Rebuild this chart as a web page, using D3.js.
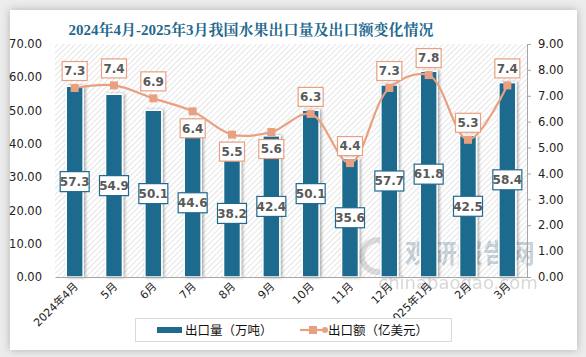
<!DOCTYPE html>
<html><head><meta charset="utf-8">
<script src="https://cdn.jsdelivr.net/npm/d3@7"></script>
<style>
html,body{margin:0;padding:0;background:#ececec;}
#card{position:absolute;left:10px;top:10px;width:567px;height:340px;background:#fff;box-shadow:0 0 8px rgba(0,0,0,0.25);}
svg{position:absolute;left:0;top:0;}
</style></head><body>
<div id="card"></div>
<svg id="chart" width="586" height="357"></svg>
<script>
const categories = ["2024年4月","5月","6月","7月","8月","9月","10月","11月","12月","2025年1月","2月","3月"];
const volume = [57.3,54.9,50.1,44.6,38.2,42.4,50.1,35.6,57.7,61.8,42.5,58.4];
const value = [7.3,7.4,6.9,6.4,5.5,5.6,6.3,4.4,7.3,7.8,5.3,7.4];
const leftTicks = [0,10,20,30,40,50,60,70];
const rightTicks = [0,1,2,3,4,5,6,7,8,9];
const labelBelow = [false,false,false,true,true,true,false,false,false,false,false,false];

const blue = "#1f6a8d", salmon = "#e9a080", gray = "#595959";
const svg = d3.select("#chart");
const m = {l:55, r:527, t:44, b:277};

const defs = svg.append("defs");
const pat = defs.append("pattern").attr("id","hatch").attr("patternUnits","userSpaceOnUse")
  .attr("width",4).attr("height",4).attr("patternTransform","rotate(45)");
pat.append("rect").attr("width",4).attr("height",4).attr("fill","#fff");
pat.append("line").attr("x1",0).attr("y1",0).attr("x2",0).attr("y2",4).attr("stroke","#d4d4d4").attr("stroke-width",1.2);
const f = defs.append("filter").attr("id","sh").attr("x","-30%").attr("y","-10%").attr("width","160%").attr("height","120%");
f.append("feDropShadow").attr("dx",1.5).attr("dy",0).attr("stdDeviation",1.5).attr("flood-color","#000").attr("flood-opacity",0.35);

// title
svg.append("text").attr("x",251).attr("y",35).attr("text-anchor","middle")
  .attr("font-family","'Liberation Serif','Noto Serif CJK SC','Noto Sans CJK SC',serif").attr("font-weight","bold")
  .attr("font-size",15).attr("fill","#23688c")
  .text("2024年4月-2025年3月我国水果出口量及出口额变化情况");

// plot bg
svg.append("rect").attr("x",m.l).attr("y",m.t).attr("width",m.r-m.l).attr("height",m.b-m.t).attr("fill","url(#hatch)");

const x = d3.scaleBand().domain(categories).range([m.l,m.r]).paddingInner(0.57).paddingOuter(0.285);
const yL = d3.scaleLinear().domain([0,70]).range([m.b,m.t]);
const yR = d3.scaleLinear().domain([0,9]).range([m.b,m.t]);
const cx = d => x(d)+x.bandwidth()/2;

// watermark
const wm = svg.append("g").attr("opacity",0.25);
wm.append("circle").attr("cx",378).attr("cy",256).attr("r",16).attr("fill","none").attr("stroke","#7a7a7a").attr("stroke-width",6);
wm.append("text").attr("x",470).attr("y",263).attr("text-anchor","middle").attr("font-family","'Noto Sans CJK SC',sans-serif").attr("font-weight","bold").attr("font-size",26).attr("fill","#2f5670").text("观研报告网");
wm.append("text").attr("x",458).attr("y",289).attr("text-anchor","middle").attr("font-family","'DejaVu Sans',sans-serif").attr("font-size",18).attr("fill","#666").text("chinabaogao.com");

// bars
svg.append("g").selectAll("rect").data(categories).join("rect")
  .attr("x",d=>x(d)).attr("width",x.bandwidth())
  .attr("y",(d,i)=>yL(volume[i])).attr("height",(d,i)=>m.b-yL(volume[i]))
  .attr("fill",blue).attr("stroke","#fff").attr("stroke-width",1.5).attr("filter","url(#sh)");

// axes
const fmt = d3.format(".2f");
const gl = svg.append("g").attr("transform",`translate(${m.l},0)`)
  .call(d3.axisLeft(yL).tickValues(leftTicks).tickFormat(fmt).tickSize(0).tickPadding(13));
gl.select(".domain").remove();
const gr = svg.append("g").attr("transform",`translate(${m.r},0)`)
  .call(d3.axisRight(yR).tickValues(rightTicks).tickFormat(fmt).tickSize(4).tickPadding(7));
gr.select(".domain").attr("stroke","#a6a6a6");
gr.selectAll(".tick line").attr("stroke","#a6a6a6");
[gl,gr].forEach(g=>g.selectAll("text").attr("font-family","'DejaVu Sans',sans-serif").attr("font-size",11.5).attr("fill","#222"));

const gb = svg.append("g").attr("transform",`translate(0,${m.b})`)
  .call(d3.axisBottom(x).tickSize(0).tickPadding(0));
gb.select(".domain").attr("stroke","#a6a6a6");
gb.selectAll("text").attr("font-family","'DejaVu Sans','Noto Sans CJK SC',sans-serif").attr("font-size",11).attr("fill","#222")
  .attr("text-anchor","end").attr("dy",0).attr("transform","translate(4,10) rotate(-45)");

// line
const line = d3.line().x((d,i)=>cx(categories[i])).y(d=>yR(d)).curve(d3.curveCatmullRom.alpha(0.5));
svg.append("path").datum(value).attr("d",line).attr("fill","none").attr("stroke",salmon).attr("stroke-width",2.2);
svg.append("g").selectAll("rect").data(value).join("rect")
  .attr("x",(d,i)=>cx(categories[i])-4).attr("y",d=>yR(d)-4).attr("width",8).attr("height",8).attr("fill",salmon);

// bar labels
const bl = svg.append("g").selectAll("g").data(volume).join("g")
  .attr("transform",(d,i)=>`translate(${cx(categories[i])},${(yL(d)+m.b)/2})`);
bl.append("rect").attr("x",-14.5).attr("y",-10).attr("width",29).attr("height",20).attr("fill","#fff").attr("stroke",blue).attr("stroke-width",1.2);
bl.append("text").attr("text-anchor","middle").attr("dy","0.36em").attr("font-family","'DejaVu Sans',sans-serif").attr("font-weight","bold").attr("font-size",12).attr("fill",gray).text(d=>d.toFixed(1));

// line labels
const ll = svg.append("g").selectAll("g").data(value).join("g")
  .attr("transform",(d,i)=>`translate(${cx(categories[i])},${yR(d)+(labelBelow[i]?17:-17)})`);
ll.append("rect").attr("x",-12.5).attr("y",-9.5).attr("width",25).attr("height",19).attr("fill","#fff").attr("stroke",salmon).attr("stroke-width",1.2);
ll.append("text").attr("text-anchor","middle").attr("dy","0.36em").attr("font-family","'DejaVu Sans',sans-serif").attr("font-weight","bold").attr("font-size",12).attr("fill",gray).text(d=>d.toFixed(1));

// legend
const lg = svg.append("g");
lg.append("rect").attr("x",135.5).attr("y",318.5).attr("width",316).attr("height",23).attr("fill","#fff").attr("stroke","#d9d9d9");
lg.append("rect").attr("x",157).attr("y",327).attr("width",25).attr("height",6).attr("fill",blue);
lg.append("text").attr("x",185).attr("y",335).attr("font-family","'Noto Sans CJK SC',sans-serif").attr("font-size",12.5).attr("fill","#111").text("出口量（万吨）");
lg.append("line").attr("x1",300).attr("x2",326).attr("y1",330).attr("y2",330).attr("stroke",salmon).attr("stroke-width",2.2);
lg.append("rect").attr("x",309).attr("y",326).attr("width",8).attr("height",8).attr("fill",salmon);
lg.append("circle").attr("cx",325).attr("cy",330).attr("r",3).attr("fill",salmon);
lg.append("text").attr("x",328).attr("y",335).attr("font-family","'Noto Sans CJK SC',sans-serif").attr("font-size",12.5).attr("fill","#111").text("出口额（亿美元）");
</script>
</body></html>
